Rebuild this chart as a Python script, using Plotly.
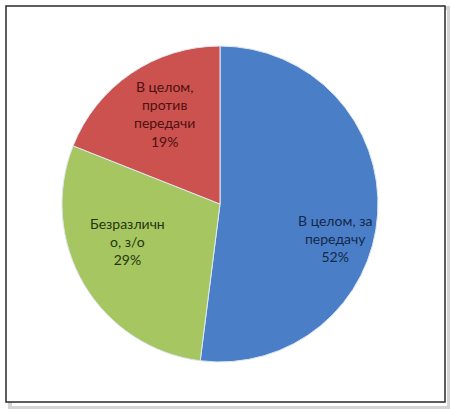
import math
import plotly.graph_objects as go

labels = ["В целом, за передачу", "Безразлично, з/о", "В целом, против передачи"]
label_lines = ["В целом, за<br>передачу", "Безразличн<br>о, з/о", "В целом,<br>против<br>передачи"]
values = [52, 29, 19]
colors = ["#4a7fc8", "#a5c661", "#cb524f"]
text_colors = ["#14284a", "#26360c", "#4e1010"]

# label placement style (fraction of radius, angular shift in degrees)
label_radius = [0.76, 0.63, 0.67]
label_shift = [12.9, 8.6, 2.8]

W, H = 450, 409
cx_px, cy_px, R_px = 220, 204, 158
dom_x = [(cx_px - R_px) / W, (cx_px + R_px) / W]
dom_y = [(H - cy_px - R_px) / H, (H - cy_px + R_px) / H]

fig = go.Figure(go.Pie(
    labels=labels,
    values=values,
    sort=False,
    direction="clockwise",
    rotation=0,
    marker=dict(colors=colors, line=dict(color="#dfe8f0", width=1)),
    textinfo="none",
    hoverinfo="label+percent",
    showlegend=False,
    domain=dict(x=dom_x, y=dom_y),
))

total = sum(values)
annotations = []
cum = 0
for i, v in enumerate(values):
    mid = (cum + v / 2) / total * 360 + label_shift[i]
    cum += v
    r = R_px * label_radius[i]
    ax = (cx_px + r * math.sin(math.radians(mid))) / W
    ay = (H - cy_px + r * math.cos(math.radians(mid))) / H
    pct = round(v / total * 100)
    annotations.append(dict(
        x=ax, y=ay, xref="paper", yref="paper", showarrow=False,
        text=f"{label_lines[i]}<br>{pct}%",
        font=dict(family="Lato", size=14, color=text_colors[i]),
        align="center", xanchor="center", yanchor="middle",
    ))

fig.update_layout(
    width=W, height=H,
    margin=dict(l=0, r=0, t=0, b=0),
    paper_bgcolor="white",
    plot_bgcolor="white",
    annotations=annotations,
    shapes=[
        dict(type="rect", xref="paper", yref="paper",
             x0=10 / W, y0=1 - 408 / H, x1=449 / W, y1=1 - 8 / H,
             line=dict(color="#d4d4d4", width=4), fillcolor="rgba(0,0,0,0)", layer="below"),
        dict(type="rect", xref="paper", yref="paper",
             x0=6 / W, y0=1 - 402 / H, x1=445 / W, y1=1 - 6 / H,
             line=dict(color="#2a2a2a", width=1.5), fillcolor="white", layer="below"),
    ],
)

fig.write_html("out.html", config={"displayModeBar": False},
               post_script="document.body.style.margin='0';")
